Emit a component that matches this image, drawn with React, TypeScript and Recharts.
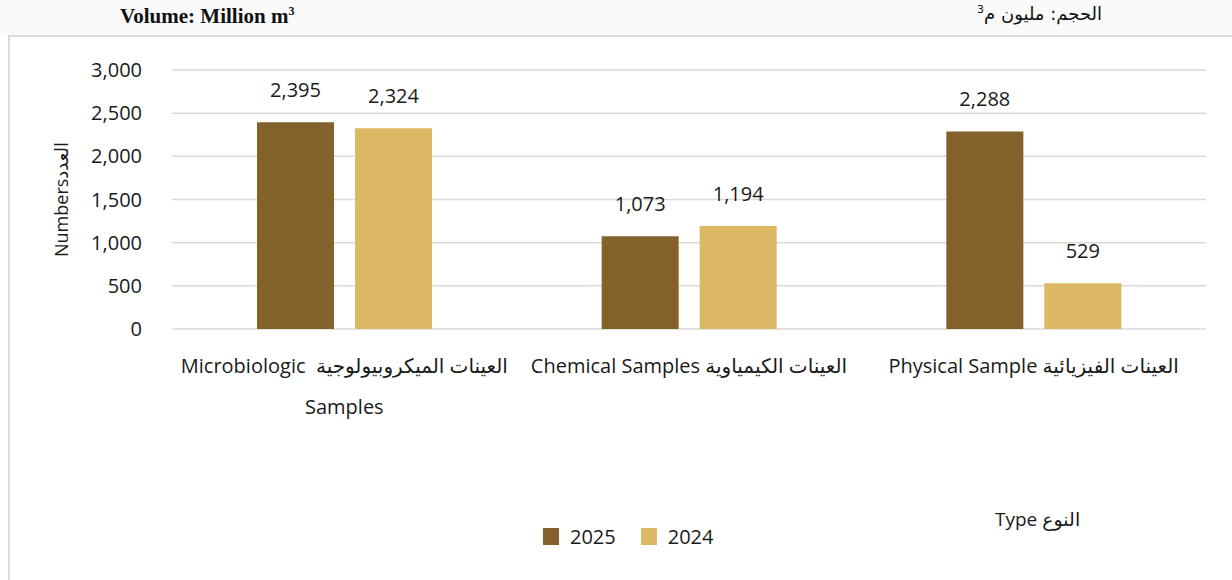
import React from "react";
import { BarChart, Bar, XAxis, YAxis, CartesianGrid, LabelList, Legend } from "recharts";

const CATEGORIES = [
  ["Microbiologic  العينات الميكروبيولوجية", "Samples"],
  ["Chemical Samples العينات الكيمياوية"],
  ["Physical Sample العينات الفيزيائية"],
];
const VALUES_2025 = [2395, 1073, 2288];
const VALUES_2024 = [2324, 1194, 529];
const Y_TICKS = [0, 500, 1000, 1500, 2000, 2500, 3000];

const COLOR_2025 = "#82612a";
const COLOR_2024 = "#dcb865";
const FONT = "'Open Sans', 'DejaVu Sans', sans-serif";

const data = CATEGORIES.map((lines, i) => ({
  name: String(i),
  lines,
  y2025: VALUES_2025[i],
  y2024: VALUES_2024[i],
}));

const fmt = (v: number) => v.toLocaleString("en-US");

function CategoryTick({ x, y, payload }: any) {
  const lines = CATEGORIES[Number(payload.value)];
  return (
    <g>
      {lines.map((t, i) => (
        <text
          key={i}
          x={x}
          y={y + 36 + i * 41}
          textAnchor="middle"
          fontSize={20}
          fontFamily={FONT}
          fill="#1a1a1a"
          style={{ whiteSpace: "pre" }}
        >
          {t}
        </text>
      ))}
    </g>
  );
}

function LegendContent() {
  const items = [
    { label: "2025", color: COLOR_2025 },
    { label: "2024", color: COLOR_2024 },
  ];
  return (
    <div style={{ display: "flex", alignItems: "center", gap: 25, fontFamily: FONT, fontSize: 20, color: "#1a1a1a" }}>
      {items.map((it) => (
        <div key={it.label} style={{ display: "flex", alignItems: "center", gap: 11 }}>
          <span style={{ width: 16, height: 17, background: it.color, display: "inline-block" }} />
          <span>{it.label}</span>
        </div>
      ))}
    </div>
  );
}

export default function App() {
  return (
    <div style={{ position: "absolute", left: 0, top: 0, width: 1232, height: 580, background: "#fff", overflow: "hidden" }}>
      {/* header strip */}
      <div style={{ position: "absolute", left: 0, top: 0, width: 1232, height: 36, background: "#fafafa" }} />
      <div
        style={{
          position: "absolute",
          left: 120,
          top: 4,
          fontFamily: "'Liberation Serif', serif",
          fontWeight: "bold",
          fontSize: 21,
          color: "#111",
        }}
      >
        Volume: Million m<sup style={{ fontSize: 12 }}>3</sup>
      </div>
      <div
        dir="rtl"
        style={{
          position: "absolute",
          right: 130,
          top: 3,
          fontFamily: "'DejaVu Sans', sans-serif",
          fontSize: 18,
          color: "#111",
        }}
      >
        الحجم: مليون م<sup style={{ fontSize: 11 }}>3</sup>
      </div>
      {/* frame */}
      <div
        style={{
          position: "absolute",
          left: 8,
          top: 35,
          width: 1240,
          height: 560,
          borderLeft: "2px solid #d9d9d9",
          borderTop: "2px solid #d9d9d9",
          background: "#fff",
        }}
      />
      <div style={{ position: "absolute", left: 0, top: 0 }}>
        <BarChart
          width={1232}
          height={580}
          data={data}
          margin={{ top: 70, right: 26, left: 72, bottom: 71 }}
          barGap={21}
        >
          <CartesianGrid vertical={false} stroke="#d9d9d9" strokeWidth={1.5} />
          <XAxis
            dataKey="name"
            axisLine={false}
            tickLine={false}
            height={180}
            interval={0}
            tick={<CategoryTick />}
          />
          <YAxis
            width={100}
            domain={[0, 3000]}
            ticks={Y_TICKS}
            axisLine={false}
            tickLine={false}
            tickMargin={24}
            tickFormatter={fmt}
            tick={{ fontSize: 20, fontFamily: FONT, fill: "#1a1a1a" }}
            label={{
              value: "Numbersالعدد",
              angle: -90,
              position: "insideLeft",
              offset: -10,
              style: { fontSize: 18, fontFamily: FONT, fill: "#1a1a1a", textAnchor: "middle" },
            }}
          />
          <Legend
            content={<LegendContent />}
            verticalAlign="middle"
            align="center"
            wrapperStyle={{ position: "absolute", left: 543, top: 523, width: "auto" }}
          />
          <Bar dataKey="y2025" name="2025" fill={COLOR_2025} barSize={77} isAnimationActive={false}>
            <LabelList
              dataKey="y2025"
              position="top"
              offset={25}
              formatter={fmt}
              style={{ fontSize: 20, fontFamily: FONT, fill: "#1a1a1a" }}
            />
          </Bar>
          <Bar dataKey="y2024" name="2024" fill={COLOR_2024} barSize={77} isAnimationActive={false}>
            <LabelList
              dataKey="y2024"
              position="top"
              offset={25}
              formatter={fmt}
              style={{ fontSize: 20, fontFamily: FONT, fill: "#1a1a1a" }}
            />
          </Bar>
        </BarChart>
      </div>
      <div
        style={{
          position: "absolute",
          left: 995,
          top: 506,
          fontFamily: FONT,
          fontSize: 19,
          color: "#1a1a1a",
        }}
      >
        Type النوع
      </div>
    </div>
  );
}
